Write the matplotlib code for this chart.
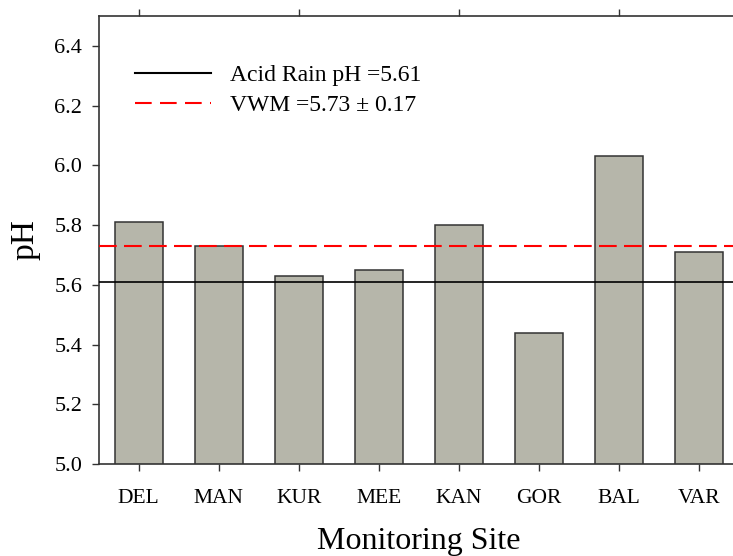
"""pH of rain at monitoring sites"""
import matplotlib
matplotlib.use('Agg')
import matplotlib.pyplot as plt
from matplotlib.lines import Line2D
import numpy as np

sites = ['DEL', 'MAN', 'KUR', 'MEE', 'KAN', 'GOR', 'BAL', 'VAR']
ph_values = [5.81, 5.73, 5.63, 5.65, 5.80, 5.44, 6.03, 5.71]
acid_rain_ph = 5.61
vwm_ph = 5.73
yticks = [5.0, 5.2, 5.4, 5.6, 5.8, 6.0, 6.2, 6.4]

plt.rcParams['font.family'] = ['Liberation Serif', 'DejaVu Serif']

fig = plt.figure(figsize=(7.33, 5.56), dpi=100)
ax = fig.add_axes([0.1347, 0.1655, 0.8733, 0.8057])

x = np.arange(len(sites))
ax.bar(x, ph_values, width=0.6, bottom=0, color='#b6b6aa',
       edgecolor='#333333', linewidth=1.1, zorder=2)
ax.axhline(acid_rain_ph, color='black', linewidth=1.2, zorder=3)
ax.axhline(vwm_ph, color='#ff0000', linewidth=1.5,
           linestyle=(0, (8.5, 3.5)), zorder=3)

ax.set_xlim(-0.5, 7.5)
ax.set_ylim(5.0, 6.5)
ax.set_yticks(yticks)
ax.set_yticklabels(['%.1f' % v for v in yticks], fontsize=16)
ax.set_xticks(x)
ax.set_xticklabels(sites, fontsize=15.5)
ax.tick_params(axis='both', direction='out', length=5, width=1,
               color='#333333')
ax.tick_params(axis='x', pad=13)
ax.tick_params(axis='y', pad=7)

for side in ['left', 'bottom', 'top']:
    ax.spines[side].set_linewidth(1.2)
    ax.spines[side].set_color('#333333')
ax.spines['right'].set_visible(False)

top = ax.secondary_xaxis('top')
top.set_xticks(x[::2])
top.set_xticklabels([])
top.tick_params(direction='out', length=5, width=1, color='#333333')
top.spines['top'].set_visible(False)

ax.set_ylabel('pH', fontsize=24, labelpad=10)
ax.set_xlabel('Monitoring Site', fontsize=23, labelpad=14)

handles = [Line2D([], [], color='black', linewidth=1.5),
           Line2D([], [], color='#ff0000', linewidth=1.5,
                  linestyle=(0, (8, 4)))]
labels = ['Acid Rain pH =5.61', 'VWM =5.73 \u00b1 0.17']
ax.legend(handles, labels, loc='upper left', frameon=False, fontsize=17,
          handlelength=3.2, handletextpad=0.8, labelspacing=0.37,
          borderaxespad=0, borderpad=0,
          bbox_to_anchor=(0.057, 0.892))

fig.savefig('out.png', dpi=100)
